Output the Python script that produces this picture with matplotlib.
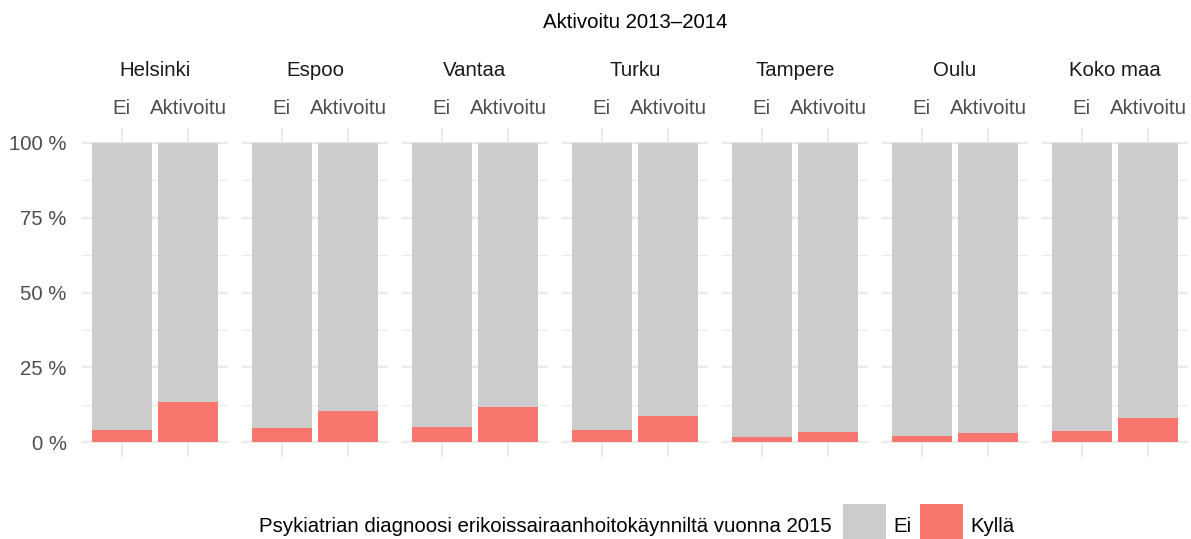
import matplotlib.pyplot as plt
from matplotlib.patches import Rectangle

plt.rcParams['font.family'] = ['Liberation Sans', 'DejaVu Sans']

cities = ['Helsinki', 'Espoo', 'Vantaa', 'Turku', 'Tampere', 'Oulu', 'Koko maa']
groups = ['Ei', 'Aktivoitu']
# share (%) with psychiatric diagnosis ("Kyllä"), per city: [Ei, Aktivoitu]
kylla_ei = [4.0, 4.7, 4.9, 4.0, 1.7, 1.9, 3.8]
kylla_akt = [13.3, 10.3, 11.7, 8.6, 3.2, 3.0, 7.9]

legend_title = 'Psykiatrian diagnoosi erikoissairaanhoitokäynniltä vuonna 2015'
legend_labels = ['Ei', 'Kyllä']
title = 'Aktivoitu 2013–2014'

grey = '#CCCCCC'
red = '#F8766D'
grid = '#EBEBEB'
fs = 14.7

W, H = 1191, 539
fig = plt.figure(figsize=(W / 100, H / 100), dpi=100)

left0, pw, gap = 82, 146, 14
top, bottom = 128, 457

for i, city in enumerate(cities):
    x0 = left0 + i * (pw + gap)
    ax = fig.add_axes([x0 / W, (H - bottom) / H, pw / W, (bottom - top) / H])
    ax.set_xlim(0.4, 2.6)
    ax.set_ylim(-5, 105)
    for v in [12.5, 37.5, 62.5, 87.5]:
        ax.axhline(v, color=grid, lw=0.8, zorder=0)
    for v in [0, 25, 50, 75, 100]:
        ax.axhline(v, color=grid, lw=1.6, zorder=0)
    for v in [1, 2]:
        ax.axvline(v, color=grid, lw=1.6, zorder=0)
    vals = [kylla_ei[i], kylla_akt[i]]
    xs = [1, 2]
    ax.bar(xs, vals, width=0.9, color=red, zorder=2)
    ax.bar(xs, [100 - v for v in vals], bottom=vals, width=0.9, color=grey, zorder=2)
    for s in ax.spines.values():
        s.set_visible(False)
    ax.xaxis.tick_top()
    ax.set_xticks(xs)
    ax.set_xticklabels(groups, fontsize=fs, color='#4D4D4D')
    ax.tick_params(axis='x', length=0, pad=7)
    ax.set_yticks([0, 25, 50, 75, 100])
    if i == 0:
        ax.set_yticklabels(['0 %', '25 %', '50 %', '75 %', '100 %'], fontsize=fs, color='#4D4D4D')
        ax.tick_params(axis='y', length=0, pad=11)
    else:
        ax.set_yticklabels([])
        ax.tick_params(axis='y', length=0)
    ax.set_facecolor('none')
    fig.text((x0 + pw / 2) / W, 1 - 70 / H, city, ha='center', va='center',
             fontsize=fs, color='#1A1A1A')

fig.text((left0 + (7 * pw + 6 * gap) / 2) / W, 1 - 22 / H, title,
         ha='center', va='center', fontsize=fs, color='black')

# legend
fig.text(259 / W, 1 - 527 / H, legend_title, ha='left', va='center', fontsize=fs, color='black')
kx = [843, 920]
for k, (lab, col) in enumerate(zip(legend_labels, [grey, red])):
    fig.patches.append(Rectangle((kx[k], H - 547), 43, 43, transform=None,
                                 facecolor=col, edgecolor='none', figure=fig))
    fig.text((kx[k] + 50) / W, 1 - 527 / H, lab, ha='left', va='center',
             fontsize=fs, color='black')

fig.savefig('out.png', dpi=100)
